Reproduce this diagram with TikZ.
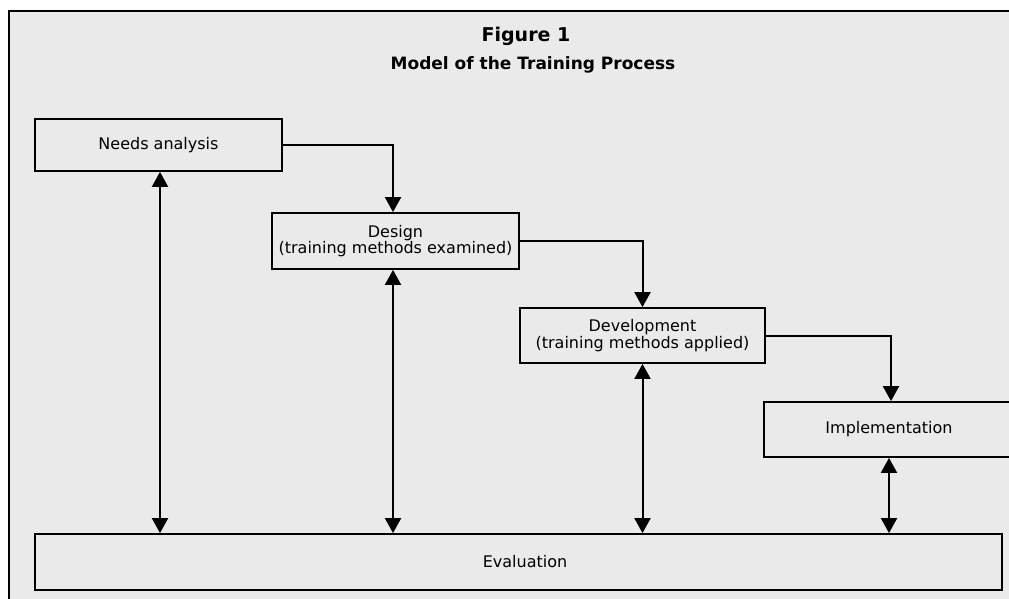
\documentclass[tikz,border=0pt]{standalone}
\usepackage{fontspec}
\setmainfont{DejaVu Sans}
\usetikzlibrary{arrows.meta}
\definecolor{bg}{RGB}{234,234,234}
\begin{document}
\begin{tikzpicture}[x=1pt,y=-1pt,
  box/.style={draw=black, line width=1.8pt, fill=bg, inner sep=0pt, align=center,
    font=\fontsize{16}{14}\selectfont},
  conn/.style={line width=2pt, -{Triangle[width=16pt,length=15pt]}},
  dconn/.style={line width=2pt, {Triangle[width=16pt,length=15pt]}-{Triangle[width=16pt,length=15pt]}}]
\useasboundingbox (0,0) rectangle (1009,598);
\clip (0,0) rectangle (1009,598);
\fill[white] (0,0) rectangle (1009,598);
\draw[line width=2.5pt, fill=bg] (9,11) rectangle (1040,630);

\node[font=\bfseries\fontsize{19}{20}\selectfont, anchor=base] (title) at (526,41) {Figure 1};
\node[font=\bfseries\fontsize{17}{20}\selectfont, anchor=base] (subtitle) at (533,69) {Model of the Training Process};

\node[box, minimum width=247pt, minimum height=52pt] (needs) at (158.5,145) {Needs analysis};
\node[box, minimum width=247pt, minimum height=56pt] (design) at (395.5,241) {Design\\(training methods examined)};
\node[box, minimum width=245pt, minimum height=55pt] (dev) at (642.5,335.5) {Development\\(training methods applied)};
\node[box, minimum width=250pt, minimum height=55pt] (impl) at (889,429.5) {Implementation};
\node[box, minimum width=967pt, minimum height=56pt] (eval) at (518.5,562) {};
\node[font=\fontsize{16}{14}\selectfont] (evaltext) at (525,562) {Evaluation};

\draw[conn] (needs.east) -| ([xshift=-2.5pt]design.north);
\draw[conn] (design.east) -| (dev.north);
\draw[conn] (dev.east) -| ([xshift=2pt]impl.north);

\draw[dconn] ([xshift=1.5pt]needs.south) -- ([xshift=1.5pt]needs.south |- eval.north);
\draw[dconn] ([xshift=-2.5pt]design.south) -- ([xshift=-2.5pt]design.south |- eval.north);
\draw[dconn] (dev.south) -- (dev.south |- eval.north);
\draw[dconn] (impl.south) -- (impl.south |- eval.north);
\end{tikzpicture}
\end{document}
